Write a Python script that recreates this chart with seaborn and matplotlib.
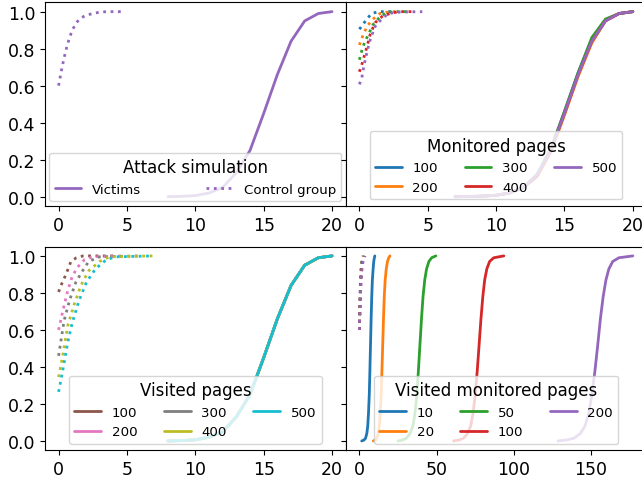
import numpy as np
import pandas as pd
import matplotlib
matplotlib.use("Agg")
import matplotlib.pyplot as plt
import seaborn as sns

# --- Attack simulation (top left) ---
victims_x = [8, 9, 10, 11, 12, 13, 14, 15, 16, 17, 18, 19, 20]
victims_y = [0, 0.002, 0.006, 0.02, 0.05, 0.13, 0.25, 0.45, 0.66, 0.84, 0.95, 0.99, 1.0]
control_x = [0, 0.2, 0.4, 0.6, 0.8, 1.0, 1.3, 1.6, 2.0, 2.5, 3.0, 3.5, 4.0, 4.8]
control_y = [0.6, 0.68, 0.75, 0.81, 0.86, 0.9, 0.94, 0.965, 0.98, 0.99, 0.997, 1.0, 1.0, 1.0]

# --- Monitored pages (top right) ---
mon_labels = ["100", "200", "300", "400", "500"]
mon_colors = ["tab:blue", "tab:orange", "tab:green", "tab:red", "tab:purple"]
mon_solid_x = [7, 8, 9, 10, 11, 12, 13, 14, 15, 16, 17, 18, 19, 20]
mon_solid_y = [
    [0, 0.001, 0.003, 0.008, 0.02, 0.05, 0.12, 0.25, 0.46, 0.67, 0.85, 0.955, 0.99, 1.0],
    [0, 0.001, 0.003, 0.007, 0.02, 0.05, 0.11, 0.24, 0.44, 0.65, 0.83, 0.95, 0.99, 1.0],
    [0, 0.001, 0.003, 0.008, 0.02, 0.05, 0.12, 0.26, 0.46, 0.67, 0.86, 0.96, 0.99, 1.0],
    [0, 0.001, 0.003, 0.007, 0.02, 0.05, 0.11, 0.25, 0.45, 0.66, 0.84, 0.95, 0.99, 1.0],
    [0, 0.001, 0.003, 0.008, 0.02, 0.05, 0.12, 0.25, 0.45, 0.66, 0.84, 0.95, 0.99, 1.0],
]
mon_dot_x = [
    [0, 0.2, 0.4, 0.6, 0.9, 1.4, 2.0, 2.5],
    [0, 0.3, 0.6, 1.0, 1.5, 2.0, 2.5, 2.9],
    [0, 0.25, 0.55, 1.0, 1.6, 2.2, 2.8, 3.5],
    [0, 0.2, 0.55, 0.8, 1.15, 1.75, 2.85, 4.1],
    [0, 0.17, 0.34, 0.55, 0.8, 1.15, 1.5, 2.1, 3.0, 4.6],
]
mon_dot_y = [
    [0.905, 0.925, 0.945, 0.965, 0.99, 1.0, 1.0, 1.0],
    [0.82, 0.88, 0.925, 0.96, 0.99, 0.997, 1.0, 1.0],
    [0.74, 0.81, 0.86, 0.93, 0.98, 0.997, 1.0, 1.0],
    [0.675, 0.72, 0.81, 0.88, 0.94, 0.98, 1.0, 1.0],
    [0.607, 0.64, 0.71, 0.78, 0.85, 0.92, 0.95, 0.99, 0.998, 1.0],
]

# --- Visited pages (bottom left) ---
vis_labels = ["100", "200", "300", "400", "500"]
vis_colors = ["tab:brown", "tab:pink", "tab:gray", "tab:olive", "tab:cyan"]
vis_dot_x = [
    [0, 0.17, 0.54, 0.9, 1.3, 1.8, 4.2],
    [0, 0.3, 0.66, 1.0, 1.4, 1.9, 2.5, 4.9],
    [0, 0.4, 0.8, 1.27, 1.76, 2.2, 3.0, 5.9],
    [0, 0.3, 0.66, 1.15, 1.63, 2.2, 3.0, 3.7, 6.9],
    [0, 0.3, 0.66, 1.0, 1.5, 2.05, 2.7, 3.5, 4.2, 6.9],
]
vis_dot_y = [
    [0.805, 0.84, 0.9, 0.97, 0.99, 1.0, 1.0],
    [0.6, 0.7, 0.81, 0.89, 0.94, 0.98, 0.995, 1.0],
    [0.46, 0.65, 0.76, 0.86, 0.92, 0.97, 0.995, 1.0],
    [0.345, 0.46, 0.62, 0.74, 0.84, 0.92, 0.97, 0.995, 1.0],
    [0.265, 0.38, 0.53, 0.64, 0.76, 0.86, 0.93, 0.98, 0.995, 1.0],
]

# --- Visited monitored pages (bottom right) ---
vm_labels = ["10", "20", "50", "100", "200"]
vm_colors = ["tab:blue", "tab:orange", "tab:green", "tab:red", "tab:purple"]
vm_solid_y = [0, 0.005, 0.015, 0.04, 0.08, 0.15, 0.25, 0.38, 0.52, 0.66, 0.78, 0.87, 0.93, 0.97, 0.99, 1.0]
vm_solid_x = [
    [1.5, 3, 4, 4.8, 5.4, 5.9, 6.4, 6.8, 7.2, 7.6, 8.0, 8.4, 8.9, 9.3, 9.7, 10.0],
    [9, 10.3, 11.3, 12.2, 12.9, 13.5, 14.1, 14.6, 15.1, 15.6, 16.1, 16.7, 17.4, 18.2, 19, 19.8],
    [25, 28, 30.5, 32.8, 34.6, 36, 37.2, 38.2, 39.2, 40.2, 41.2, 42.3, 43.5, 45, 46.8, 49.5],
    [61, 64.5, 67.5, 70, 72, 73.6, 75, 76.3, 77.5, 78.7, 79.9, 81.1, 82.5, 84.3, 87, 93.5],
    [128.5, 134, 139, 143, 146, 148.5, 150.5, 152.5, 154.3, 156, 157.8, 159.6, 161.5, 164, 168, 177],
]
vm_dot_x = [
    [0, 0.3, 0.7, 1.1, 1.6, 2.2],
    [0, 0.4, 0.8, 1.3, 1.9, 2.6],
    [0, 0.4, 0.9, 1.4, 2.0, 3.0],
    [0, 0.5, 1.0, 1.6, 2.3, 3.4],
    [0, 0.5, 1.1, 1.8, 2.6, 3.7],
]
vm_dot_y = [0.6, 0.75, 0.87, 0.94, 0.98, 1.0]

sns.set_style("ticks")
plt.rcParams.update({
    "font.family": ["DejaVu Sans"],
    "axes.edgecolor": "black",
    "xtick.color": "black",
    "ytick.color": "black",
    "text.color": "black",
    "xtick.labelsize": 12.5,
    "ytick.labelsize": 12.5,
    "xtick.direction": "out",
    "ytick.direction": "out",
})

fig, axes = plt.subplots(2, 2, figsize=(6.42, 4.85), dpi=100, sharey=True)
fig.subplots_adjust(left=0.070, right=1.007, bottom=0.0697, top=0.993, wspace=0, hspace=0.2)
lw = 2


def legend(ax, title, ncol=3, expand=False):
    if expand:
        ax.legend(title=title, ncol=2, loc="lower left", mode="expand",
                  bbox_to_anchor=(0.015, 0.025, 0.97, 1), fontsize=9.6,
                  title_fontsize=12, frameon=True, borderaxespad=0)
    else:
        ax.legend(title=title, ncol=ncol, loc="lower center", fontsize=9.6,
                  title_fontsize=12, frameon=True, columnspacing=2.0)


# top left
ax = axes[0, 0]
c = "tab:purple"
sns.lineplot(x=victims_x, y=victims_y, ax=ax, color=c, lw=lw, label="Victims")
sns.lineplot(x=control_x, y=control_y, ax=ax, color=c, lw=lw, ls=":", label="Control group")
legend(ax, "Attack simulation", expand=True)

# top right
ax = axes[0, 1]
for i in range(5):
    sns.lineplot(x=mon_solid_x, y=mon_solid_y[i], ax=ax, color=mon_colors[i], lw=lw, label=mon_labels[i])
for i in range(5):
    sns.lineplot(x=mon_dot_x[i], y=mon_dot_y[i], ax=ax, color=mon_colors[i], lw=lw, ls=":")
legend(ax, "Monitored pages")

# bottom left
ax = axes[1, 0]
for i in range(5):
    sns.lineplot(x=victims_x, y=victims_y, ax=ax, color=vis_colors[i], lw=lw, label=vis_labels[i])
for i in range(5):
    sns.lineplot(x=vis_dot_x[i], y=vis_dot_y[i], ax=ax, color=vis_colors[i], lw=lw, ls=":")
legend(ax, "Visited pages")

# bottom right
ax = axes[1, 1]
for i in range(5):
    sns.lineplot(x=vm_solid_x[i], y=vm_solid_y, ax=ax, color=vm_colors[i], lw=lw, label=vm_labels[i])
for i in range(5):
    sns.lineplot(x=vm_dot_x[i], y=vm_dot_y, ax=ax, color=vm_colors[i], lw=lw, ls=":")
legend(ax, "Visited monitored pages")

for ax in axes.flat:
    ax.set_xlabel("")
    ax.set_ylabel("")
    ax.set_yticks([0.0, 0.2, 0.4, 0.6, 0.8, 1.0])
for ax in axes[:, 0]:
    ax.set_xticks([0, 5, 10, 15, 20])
axes[0, 1].set_xticks([0, 5, 10, 15, 20])
axes[1, 1].set_xticks([0, 50, 100, 150])

fig.savefig("out.png", dpi=100)
